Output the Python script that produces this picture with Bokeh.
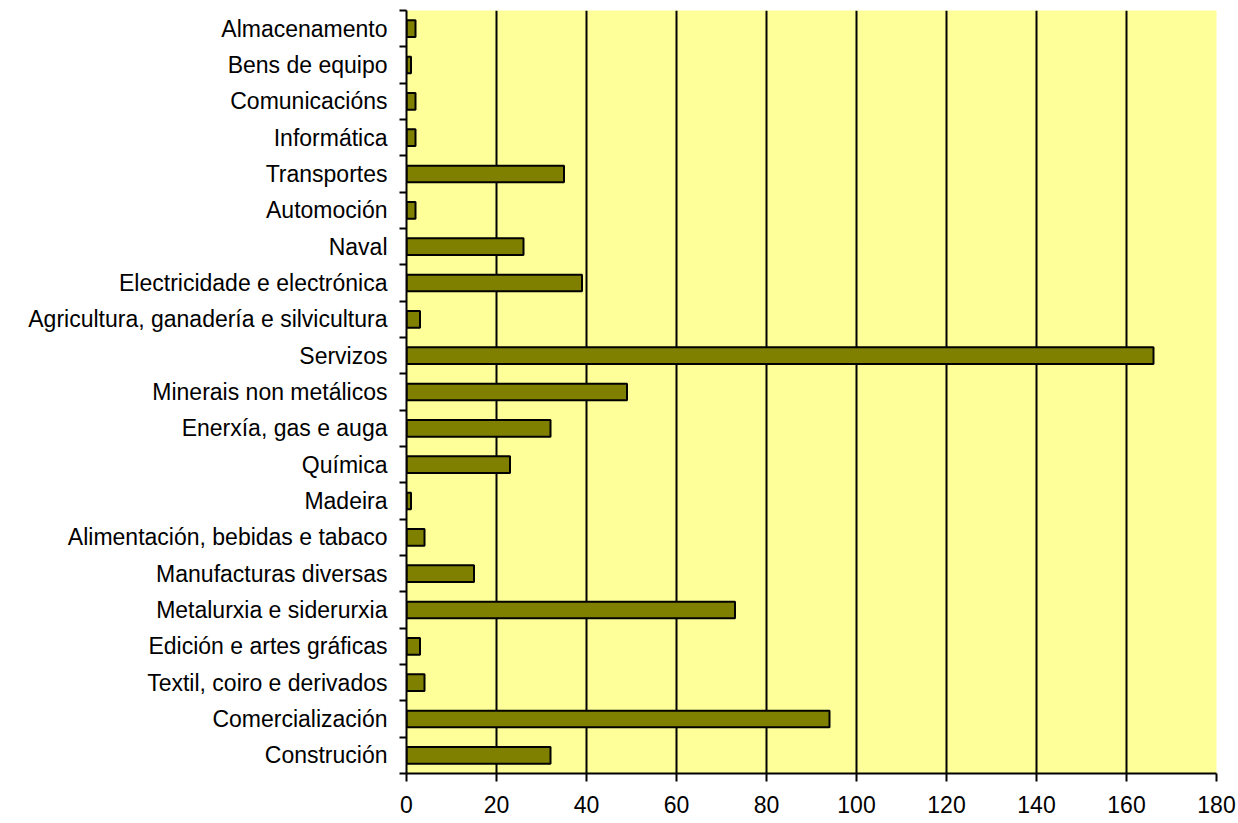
from bokeh.plotting import figure
from bokeh.models import ColumnDataSource, FixedTicker, Range1d
from bokeh.embed import file_html
from bokeh.resources import INLINE

# Categories listed bottom to top
categories = [
    "Construción", "Comercialización", "Textil, coiro e derivados",
    "Edición e artes gráficas", "Metalurxia e siderurxia", "Manufacturas diversas",
    "Alimentación, bebidas e tabaco", "Madeira", "Química", "Enerxía, gas e auga",
    "Minerais non metálicos", "Servizos", "Agricultura, ganadería e silvicultura",
    "Electricidade e electrónica", "Naval", "Automoción", "Transportes",
    "Informática", "Comunicacións", "Bens de equipo", "Almacenamento",
]
values = [32, 94, 4, 3, 73, 15, 4, 1, 23, 32, 49, 166, 3, 39, 26, 2, 35, 2, 2, 1, 2]
x_ticks = [0, 20, 40, 60, 80, 100, 120, 140, 160, 180]

n = len(categories)
pos = list(range(n))
src = ColumnDataSource(dict(y=pos, v=values, name=categories))

FONT = "Liberation Sans"
FS = "23px"

p = figure(width=1238, height=823, output_backend="svg", toolbar_location=None,
           x_range=Range1d(0, 180), y_range=Range1d(-0.5, n - 0.5),
           min_border_left=406, min_border_right=22, min_border_top=10, min_border_bottom=50)
p.background_fill_color = "#FFFF99"
p.border_fill_color = "white"
p.outline_line_color = None

p.hbar(y="y", left=0, right="v", height=0.46, source=src,
       fill_color="#808000", line_color="black", line_width=2)

# grids
p.xgrid.ticker = FixedTicker(ticks=x_ticks)
p.xgrid.grid_line_color = "black"
p.xgrid.grid_line_width = 2
p.ygrid.grid_line_color = None

# x axis
xa = p.xaxis[0]
xa.ticker = FixedTicker(ticks=x_ticks)
xa.axis_line_color = "black"
xa.axis_line_width = 2
xa.major_tick_line_color = "black"
xa.major_tick_line_width = 2
xa.major_tick_in = 0
xa.major_tick_out = 8
xa.minor_tick_line_color = None
xa.major_label_standoff = 14
xa.major_label_text_font = FONT
xa.major_label_text_font_size = FS
xa.major_label_text_color = "black"

# y axis: labels at centers, ticks at category boundaries
ya = p.yaxis[0]
ya.ticker = FixedTicker(ticks=pos, minor_ticks=[i - 0.5 for i in range(n + 1)])
ya.major_label_overrides = {i: c for i, c in enumerate(categories)}
ya.axis_line_color = "black"
ya.axis_line_width = 2
ya.major_tick_line_color = None
ya.major_tick_in = 0
ya.major_tick_out = 7
ya.minor_tick_line_color = "black"
ya.minor_tick_line_width = 2
ya.minor_tick_in = 0
ya.minor_tick_out = 7
ya.major_label_standoff = 12
ya.major_label_text_font = FONT
ya.major_label_text_font_size = FS
ya.major_label_text_color = "black"

open("out.html", "w").write(file_html(p, INLINE))
